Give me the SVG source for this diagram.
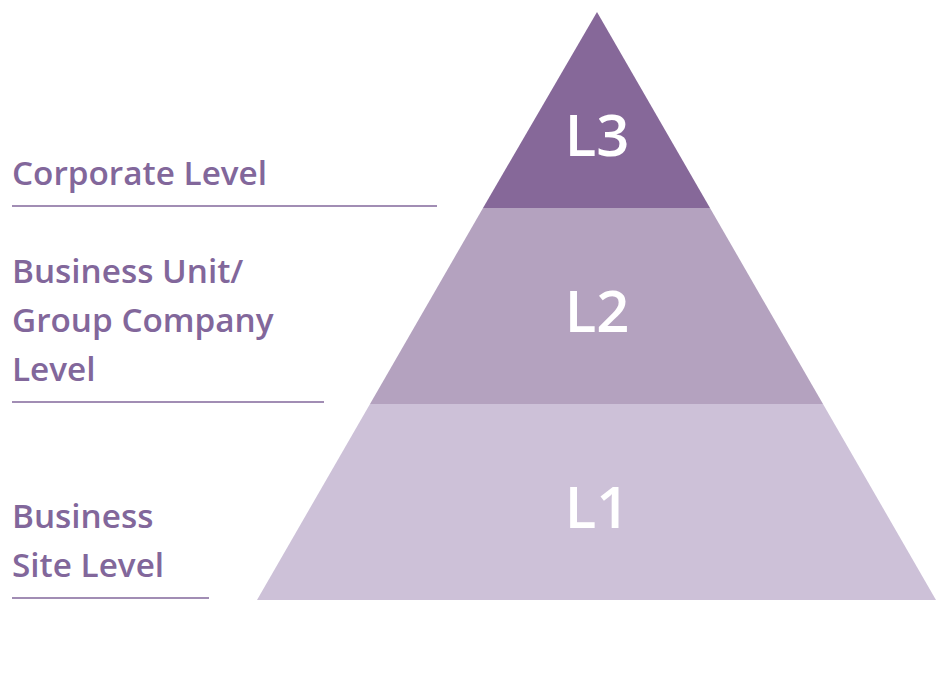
<svg xmlns="http://www.w3.org/2000/svg" width="951" height="679" viewBox="0 0 951 679">
<style>
.lbl{font-family:"Open Sans","Noto Sans","Liberation Sans",sans-serif;font-weight:600;font-size:33.3px;fill:#82679b}
.lvl{font-family:"Open Sans","Noto Sans","Liberation Sans",sans-serif;font-weight:600;font-size:58px;fill:#ffffff;text-anchor:middle}
.rule{stroke:#82679b;stroke-width:1.5;fill:none}
</style>
<rect width="951" height="679" fill="#ffffff"/>
<g id="level3">
<polygon points="597,12 710,208 483,208" fill="#866899"/>
<text class="lvl" x="597" y="156">L3</text>
</g>
<g id="level2">
<polygon points="483,208 710,208 823,404 370,404" fill="#b4a2bf"/>
<text class="lvl" x="597" y="332">L2</text>
</g>
<g id="level1">
<polygon points="370,404 823,404 936,600 257,600" fill="#cdc1d8"/>
<text class="lvl" x="597" y="528">L1</text>
</g>
<g id="label-corporate">
<text class="lbl" x="12" y="185">Corporate Level</text>
<line class="rule" x1="12" y1="206" x2="437" y2="206"/>
</g>
<g id="label-business-unit">
<text class="lbl" x="12" y="283">Business Unit/</text>
<text class="lbl" x="12" y="332">Group Company</text>
<text class="lbl" x="12" y="381">Level</text>
<line class="rule" x1="12" y1="402" x2="324" y2="402"/>
</g>
<g id="label-site">
<text class="lbl" x="12" y="528">Business</text>
<text class="lbl" x="12" y="577">Site Level</text>
<line class="rule" x1="12" y1="598" x2="209" y2="598"/>
</g>
<g id="connectors"></g>
</svg>
